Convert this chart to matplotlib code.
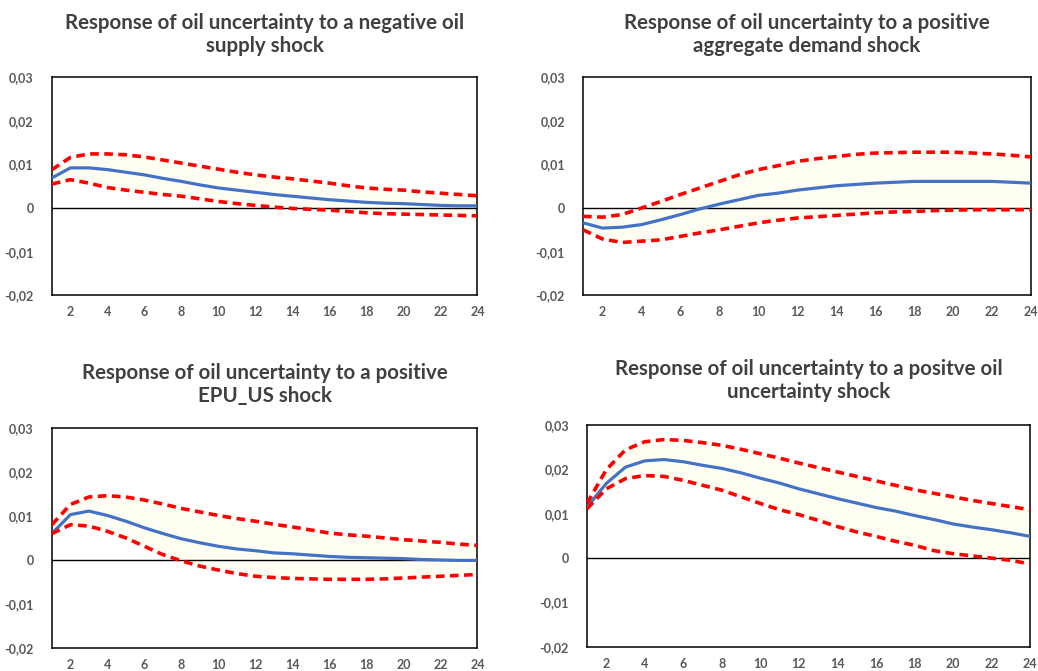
import matplotlib
matplotlib.use("Agg")
import numpy as np
import matplotlib.pyplot as plt
from matplotlib.ticker import FuncFormatter, FixedLocator

# ===========
# Chart data
# ===========
horizon = list(range(1, 25))
xtick_labels = [2, 4, 6, 8, 10, 12, 14, 16, 18, 20, 22, 24]
yticks = [-0.02, -0.01, 0.0, 0.01, 0.02, 0.03]

titles = [
    "Response of oil uncertainty to a negative oil\nsupply shock",
    "Response of oil uncertainty to a positive\naggregate demand shock",
    "Response of oil uncertainty to a positive\nEPU_US shock",
    "Response of oil uncertainty to a positve oil\nuncertainty shock",
]

# negative oil supply shock
supply_irf = [0.0069, 0.0092, 0.0092, 0.0088, 0.0082, 0.0076, 0.0068, 0.0061, 0.0053, 0.0046,
              0.0041, 0.0036, 0.0031, 0.0027, 0.0023, 0.0019, 0.0016, 0.0013, 0.0011, 0.0010,
              0.0008, 0.0006, 0.0005, 0.0005]
supply_hi = [0.0088, 0.0116, 0.0124, 0.0124, 0.0122, 0.0117, 0.0110, 0.0103, 0.0096, 0.0089,
             0.0082, 0.0076, 0.0071, 0.0067, 0.0062, 0.0057, 0.0051, 0.0046, 0.0043, 0.0041,
             0.0037, 0.0034, 0.0031, 0.0028]
supply_lo = [0.0055, 0.0065, 0.0057, 0.0047, 0.0041, 0.0036, 0.0031, 0.0027, 0.0021, 0.0015,
             0.0010, 0.0006, 0.0002, -0.0001, -0.0003, -0.0005, -0.0008, -0.0011, -0.0013, -0.0014,
             -0.0015, -0.0016, -0.0017, -0.0018]

# positive aggregate demand shock
demand_irf = [-0.0034, -0.0046, -0.0044, -0.0038, -0.0027, -0.0015, -0.0002, 0.0009, 0.0019, 0.0029,
              0.0034, 0.0041, 0.0046, 0.0051, 0.0054, 0.0057, 0.0059, 0.0061, 0.0061, 0.0061,
              0.0061, 0.0061, 0.0059, 0.0057]
demand_hi = [-0.0019, -0.0021, -0.0015, 0.0000, 0.0015, 0.0031, 0.0046, 0.0061, 0.0076, 0.0088,
             0.0097, 0.0107, 0.0113, 0.0118, 0.0123, 0.0126, 0.0127, 0.0128, 0.0128, 0.0128,
             0.0126, 0.0124, 0.0121, 0.0117]
demand_lo = [-0.0050, -0.0071, -0.0079, -0.0076, -0.0073, -0.0065, -0.0057, -0.0050, -0.0042, -0.0034,
             -0.0028, -0.0023, -0.0020, -0.0017, -0.0014, -0.0011, -0.0009, -0.0008, -0.0006, -0.0005,
             -0.0004, -0.0004, -0.0004, -0.0004]

# positive EPU_US shock
epu_irf = [0.0060, 0.0103, 0.0111, 0.0101, 0.0088, 0.0073, 0.0060, 0.0048, 0.0039, 0.0031,
           0.0025, 0.0021, 0.0016, 0.0014, 0.0011, 0.0008, 0.0006, 0.0005, 0.0004, 0.0003,
           0.0001, 0.0000, -0.0001, -0.0001]
epu_hi = [0.0080, 0.0126, 0.0143, 0.0146, 0.0143, 0.0136, 0.0127, 0.0117, 0.0109, 0.0101,
          0.0094, 0.0088, 0.0081, 0.0075, 0.0068, 0.0061, 0.0057, 0.0054, 0.0050, 0.0046,
          0.0043, 0.0040, 0.0036, 0.0033]
epu_lo = [0.0060, 0.0080, 0.0077, 0.0065, 0.0050, 0.0031, 0.0012, -0.0002, -0.0014, -0.0023,
          -0.0031, -0.0037, -0.0040, -0.0042, -0.0043, -0.0044, -0.0044, -0.0044, -0.0043, -0.0041,
          -0.0039, -0.0037, -0.0035, -0.0033]

# positive oil uncertainty shock
unc_irf = [0.0115, 0.0168, 0.0205, 0.0219, 0.0222, 0.0217, 0.0209, 0.0202, 0.0192, 0.0180,
           0.0169, 0.0156, 0.0145, 0.0134, 0.0124, 0.0114, 0.0106, 0.0096, 0.0087, 0.0077,
           0.0070, 0.0064, 0.0057, 0.0049]
unc_hi = [0.0123, 0.0199, 0.0244, 0.0262, 0.0267, 0.0265, 0.0260, 0.0254, 0.0245, 0.0235,
          0.0225, 0.0214, 0.0204, 0.0194, 0.0184, 0.0174, 0.0164, 0.0154, 0.0146, 0.0138,
          0.0130, 0.0123, 0.0116, 0.0109]
unc_lo = [0.0111, 0.0156, 0.0179, 0.0186, 0.0184, 0.0175, 0.0164, 0.0153, 0.0138, 0.0123,
          0.0109, 0.0098, 0.0085, 0.0071, 0.0059, 0.0049, 0.0038, 0.0029, 0.0017, 0.0010,
          0.0005, 0.0000, -0.0005, -0.0013]

panels = [
    (supply_irf, supply_lo, supply_hi),
    (demand_irf, demand_lo, demand_hi),
    (epu_irf, epu_lo, epu_hi),
    (unc_irf, unc_lo, unc_hi),
]

# ======
# Layout
# ======
# axes rectangles [left, bottom, width, height] in figure fractions
rects = [
    [0.050, 0.560, 0.410, 0.325],
    [0.5617, 0.560, 0.4316, 0.325],
    [0.050, 0.0343, 0.410, 0.328],
    [0.5655, 0.0358, 0.4268, 0.331],
]
title_y = [0.9486, 0.9486, 0.427, 0.433]

BLUE = "#4472C4"
RED = "#FF0000"
GREY = "#595959"

plt.rcParams["font.family"] = ["Lato", "DejaVu Sans"]


def comma_fmt(v, pos):
    if abs(v) < 1e-9:
        return "0"
    return f"{v:.2f}".replace(".", ",")


fig = plt.figure(figsize=(10.38, 6.71), dpi=100)

for rect, ty, title, (irf, lo, hi) in zip(rects, title_y, titles, panels):
    ax = fig.add_axes(rect)
    x = np.array(horizon)
    # faint tint between the bands (barely visible in the original)
    ax.fill_between(x, lo, hi, color="#FFFEF3", lw=0, zorder=1)
    ax.axhline(0, color="black", lw=1.0, zorder=2)
    ax.plot(x, irf, color=BLUE, lw=2.3, zorder=3, solid_capstyle="butt")
    for band in (hi, lo):
        ax.plot(x, band, color=RED, lw=2.6, dashes=(2.4, 1.5), zorder=4)

    ax.set_xlim(1, 24)
    ax.set_ylim(-0.02, 0.03)
    ax.xaxis.set_major_locator(FixedLocator(xtick_labels))
    ax.yaxis.set_major_locator(FixedLocator(yticks))
    ax.yaxis.set_major_formatter(FuncFormatter(comma_fmt))
    ax.tick_params(length=0, labelsize=9, labelcolor=GREY)
    ax.tick_params(axis="x", pad=8)
    ax.tick_params(axis="y", pad=13)
    for lab in ax.get_xticklabels() + ax.get_yticklabels():
        lab.set_fontweight("bold")
    for sp in ax.spines.values():
        sp.set_color("black")
        sp.set_linewidth(1.1)

    cx = rect[0] + rect[2] / 2
    fig.text(cx, ty, title, ha="center", va="center", fontsize=14.8,
             fontweight="bold", color="#404040", linespacing=1.2)

fig.savefig("out.png", dpi=100)
